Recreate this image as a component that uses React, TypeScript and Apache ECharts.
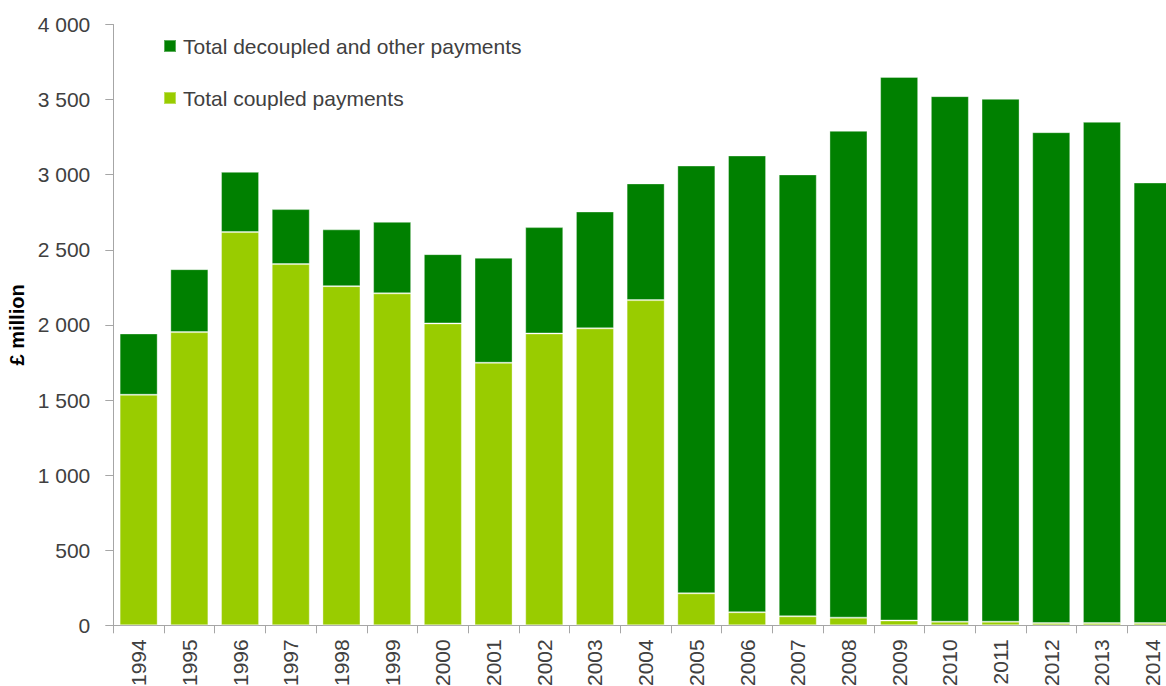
import React, { useEffect, useRef } from "react";
import * as echarts from "echarts";

const years = ["1994","1995","1996","1997","1998","1999","2000","2001","2002","2003","2004","2005","2006","2007","2008","2009","2010","2011","2012","2013","2014"];
const coupled = [1535, 1952, 2618, 2405, 2258, 2210, 2010, 1748, 1943, 1977, 2165, 213, 87, 60, 51, 32, 24, 24, 15, 15, 15];
const decoupled = [408, 419, 401, 366, 378, 476, 461, 699, 708, 778, 777, 2848, 3041, 2942, 3241, 3619, 3499, 3481, 3268, 3337, 2933];
const yTicks = [0, 500, 1000, 1500, 2000, 2500, 3000, 3500, 4000];

const NAME_DEC = "Total decoupled and other payments";
const NAME_COU = "Total coupled payments";
const FONT = "'Liberation Sans', Arial, sans-serif";
const TXT = "#404040";
const AXIS = "#a6a6a6";

const fmt = (v: number) => {
  const s = String(v);
  return s.length > 3 ? s.slice(0, s.length - 3) + " " + s.slice(s.length - 3) : s;
};

export default function App() {
  const ref = useRef<HTMLDivElement>(null);
  useEffect(() => {
    if (!ref.current) return;
    const chart = echarts.init(ref.current, undefined, { renderer: "svg" });
    const legendBase = {
      orient: "vertical" as const,
      left: 158,
      icon: "rect",
      itemWidth: 12,
      itemHeight: 12,
      textStyle: { fontFamily: FONT, fontSize: 21, color: TXT, lineHeight: 21, padding: [0, 0, 0, 2] },
    };
    chart.setOption({
      animation: false,
      backgroundColor: "#ffffff",
      textStyle: { fontFamily: FONT },
      legend: [
        { ...legendBase, top: 30.5, data: [NAME_DEC] },
        { ...legendBase, top: 82.5, data: [NAME_COU] },
      ],
      grid: { left: 113.3, right: 0, top: 24.5, bottom: 60.7, containLabel: false, outerBoundsMode: "none" },
      xAxis: {
        type: "category",
        data: years,
        axisLine: { lineStyle: { color: AXIS, width: 1 } },
        axisTick: { show: true, length: 8, lineStyle: { color: AXIS } },
        axisLabel: { rotate: 90, margin: 14, fontSize: 21, color: TXT, fontFamily: FONT, interval: 0 },
      },
      yAxis: {
        type: "value",
        min: yTicks[0],
        max: yTicks[yTicks.length - 1],
        interval: 500,
        name: "£ million",
        nameLocation: "middle",
        nameGap: 85,
        nameRotate: 90,
        nameTextStyle: { fontSize: 20, fontWeight: "bold", color: "#000", fontFamily: FONT },
        axisLine: { show: true, lineStyle: { color: AXIS, width: 1 } },
        axisTick: { show: true, length: 8, lineStyle: { color: AXIS } },
        splitLine: { show: false },
        axisLabel: { margin: 23, fontSize: 21, color: TXT, fontFamily: FONT, formatter: (v: number) => fmt(v) },
      },
      series: [
        {
          name: NAME_COU,
          type: "bar",
          stack: "total",
          data: coupled,
          barCategoryGap: "25%",
          itemStyle: { color: "#99cc00", borderColor: "rgba(255,255,255,0.35)", borderWidth: 1 },
        },
        {
          name: NAME_DEC,
          type: "bar",
          stack: "total",
          data: decoupled,
          barCategoryGap: "25%",
          itemStyle: { color: "#008000", borderColor: "rgba(255,255,255,0.35)", borderWidth: 1 },
        },
      ],
    });
    return () => chart.dispose();
  }, []);
  return (
    <div
      ref={ref}
      style={{ position: "fixed", left: 0, top: 0, width: 1178, height: 686, background: "#fff" }}
    />
  );
}
